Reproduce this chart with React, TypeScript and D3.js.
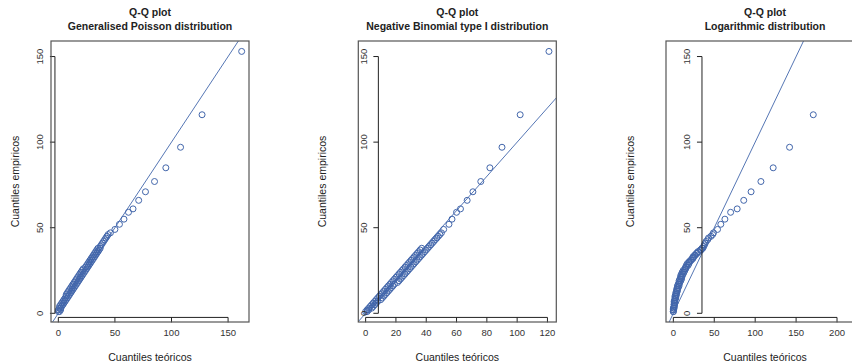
import { useEffect, useRef } from "react";
import * as d3 from "d3";

// empirical quantiles (same sample in every panel)
const empirical = [
  1, 1, 2, 2, 3, 3, 4, 4, 5, 5, 6, 6, 7, 7, 8, 8, 9, 9, 10, 10, 11, 11, 12, 12,
  13, 13, 14, 14, 15, 15, 16, 16, 17, 17, 18, 18, 19, 19, 20, 20, 21, 21, 22,
  22, 23, 23, 24, 24, 25, 25, 26, 26, 27, 27, 28, 28, 29, 29, 30, 30, 31, 31,
  32, 32, 33, 33, 34, 34, 35, 35, 36, 36, 37, 37, 38, 38, 39, 40, 41, 42, 43,
  44, 45, 46, 47, 49, 52, 55, 59, 61, 66, 71, 77, 85, 97, 116, 153,
];

// theoretical quantiles per fitted distribution
const poissonGen = [
  0, 1, 0, 2, 1, 2, 1, 3, 2, 4, 3, 5, 4, 6, 5, 7, 6, 8, 7, 9, 7, 10, 8, 11, 9,
  12, 10, 13, 11, 14, 12, 15, 13, 16, 14, 17, 15, 18, 16, 19, 17, 20, 18, 21,
  19, 22, 20, 23, 21, 24, 22, 25, 24, 26, 25, 27, 26, 28, 27, 29, 28, 30, 29,
  31, 30, 32, 31, 33, 32, 34, 33, 35, 34, 36, 35, 37, 37, 38, 39, 40, 41, 42,
  43, 44, 46, 50, 54, 58, 62, 66, 71, 77, 85, 95, 108, 127, 162,
];
const negBinom = [
  0, 1, 1, 2, 2, 4, 3, 5, 4, 6, 5, 7, 6, 8, 7, 10, 8, 11, 9, 12, 10, 13, 11, 14,
  12, 15, 13, 16, 14, 17, 15, 18, 16, 19, 17, 21, 18, 22, 19, 23, 20, 24, 21,
  25, 22, 26, 23, 27, 24, 28, 25, 29, 26, 30, 27, 31, 28, 32, 29, 33, 30, 34,
  31, 35, 32, 36, 33, 37, 34, 38, 35, 39, 36, 40, 37, 41, 42, 43, 44, 45, 46,
  47, 48, 49, 50, 51.5, 55, 57, 60, 62.6, 67, 70.8, 76, 82, 90, 102, 121,
];
const logarithmic = [
  0, 0, 0, 0, 0, 1, 1, 1, 1, 1, 1, 2, 1, 2, 2, 2, 2, 3, 2, 3, 3, 4, 3, 4, 4, 5,
  4, 5, 5, 6, 5, 7, 6, 7, 7, 8, 7, 9, 8, 10, 9, 10, 9, 11, 10, 12, 11, 13, 12,
  14, 14, 15, 15, 16, 16, 18, 17, 19, 19, 20, 21, 22, 23, 24, 24, 25, 26, 27,
  28, 29, 30, 31, 33, 34, 35, 36, 37, 38, 39, 40, 42, 43, 46, 48, 49, 54, 58,
  63, 70, 78, 86, 95, 107, 122, 142, 171, 224,
];

const subtitles = [
  "Generalised Poisson distribution",
  "Negative Binomial type I distribution",
  "Logarithmic distribution",
];
const theoretical = [poissonGen, negBinom, logarithmic];
const xTicks = [
  [0, 50, 100, 150],
  [0, 20, 40, 60, 80, 100, 120],
  [0, 50, 100, 150, 200],
];
const yTicks = [0, 50, 100, 150];
// where the y axis was drawn (in theoretical units) for each panel
const yAxisAt = [-3, 8.4, 35];
const xAxisAt = -2.4;

const W = 852;
const H = 362;
const boxLefts = [51, 358.3, 666];
const boxW = 198;
const boxTop = 41;
const boxBottom = 322;
const blue = "#4266ab";
const font = "'Liberation Sans', Arial, sans-serif";

// R style range: data extent padded by 4%
const usr = (vals: number[]) => {
  const [a, b] = d3.extent(vals) as [number, number];
  const pad = (b - a) * 0.04;
  return [a - pad, b + pad];
};

export default function App() {
  const ref = useRef<SVGSVGElement>(null);

  useEffect(() => {
    const svg = d3.select(ref.current);
    svg.selectAll("*").remove();

    const y = d3.scaleLinear().domain(usr(empirical)).range([boxBottom, boxTop]);

    theoretical.forEach((xs, i) => {
      const left = boxLefts[i];
      const right = left + boxW;
      const cx = (left + right) / 2;
      const x = d3.scaleLinear().domain(usr(xs)).range([left, right]);
      const g = svg.append("g");

      const clipId = `clip-${i}`;
      g.append("clipPath")
        .attr("id", clipId)
        .append("rect")
        .attr("x", left)
        .attr("y", boxTop)
        .attr("width", boxW)
        .attr("height", boxBottom - boxTop);

      // titles
      g.append("text")
        .attr("x", cx)
        .attr("y", 16)
        .attr("text-anchor", "middle")
        .attr("font-weight", "bold")
        .attr("font-size", 10.5)
        .attr("fill", "#222")
        .text("Q-Q plot");
      g.append("text")
        .attr("x", cx)
        .attr("y", 30)
        .attr("text-anchor", "middle")
        .attr("font-weight", "bold")
        .attr("font-size", 10.5)
        .attr("fill", "#222")
        .text(subtitles[i]);

      // points
      const pts = g.append("g").attr("clip-path", `url(#${clipId})`);
      pts.selectAll("circle")
        .data(xs.map((v, k) => [v, empirical[k]]))
        .enter()
        .append("circle")
        .attr("cx", (d) => x(d[0]))
        .attr("cy", (d) => y(d[1]))
        .attr("r", 3)
        .attr("fill", "none")
        .attr("stroke", blue)
        .attr("stroke-width", 1);

      // reference line y = x
      const [d0, d1] = x.domain();
      pts.append("line")
        .attr("x1", x(d0 - 50))
        .attr("y1", y(d0 - 50))
        .attr("x2", x(d1 + 300))
        .attr("y2", y(d1 + 300))
        .attr("stroke", blue)
        .attr("stroke-width", 0.9);

      // x axis
      const xa = g.append("g").attr("stroke", "#222").attr("fill", "none");
      const xt = xTicks[i];
      const ay = y(xAxisAt);
      xa.append("line")
        .attr("x1", x(xt[0]))
        .attr("x2", x(xt[xt.length - 1]))
        .attr("y1", ay)
        .attr("y2", ay);
      xt.forEach((t) => {
        xa.append("line")
          .attr("x1", x(t))
          .attr("x2", x(t))
          .attr("y1", ay)
          .attr("y2", ay + 5);
        g.append("text")
          .attr("x", x(t))
          .attr("y", 336)
          .attr("text-anchor", "middle")
          .attr("font-size", 9.5)
          .attr("fill", "#333")
          .text(t);
      });

      // y axis
      const ax = x(yAxisAt[i]);
      xa.append("line")
        .attr("x1", ax)
        .attr("x2", ax)
        .attr("y1", y(yTicks[0]))
        .attr("y2", y(yTicks[yTicks.length - 1]));
      yTicks.forEach((t) => {
        xa.append("line")
          .attr("x1", ax - 5)
          .attr("x2", ax)
          .attr("y1", y(t))
          .attr("y2", y(t));
        g.append("text")
          .attr("transform", `translate(${ax - 15},${y(t)}) rotate(-90)`)
          .attr("dy", "0.35em")
          .attr("text-anchor", "middle")
          .attr("font-size", 9.5)
          .attr("fill", "#333")
          .text(t);
      });

      // box
      g.append("rect")
        .attr("x", left)
        .attr("y", boxTop)
        .attr("width", boxW)
        .attr("height", boxBottom - boxTop)
        .attr("fill", "none")
        .attr("stroke", "#555")
        .attr("stroke-width", 1.2);

      // axis labels
      g.append("text")
        .attr("x", cx)
        .attr("y", 361)
        .attr("text-anchor", "middle")
        .attr("font-size", 10.5)
        .attr("fill", "#222")
        .text("Cuantiles teóricos");
      g.append("text")
        .attr("transform", `translate(${left - 36},${(boxTop + boxBottom) / 2}) rotate(-90)`)
        .attr("dy", "0.35em")
        .attr("text-anchor", "middle")
        .attr("font-size", 10.5)
        .attr("fill", "#222")
        .text("Cuantiles empiricos");
    });
  }, []);

  return (
    <svg
      ref={ref}
      width={W}
      height={H}
      style={{ position: "absolute", left: 0, top: 0, background: "#fff", fontFamily: font }}
    />
  );
}
